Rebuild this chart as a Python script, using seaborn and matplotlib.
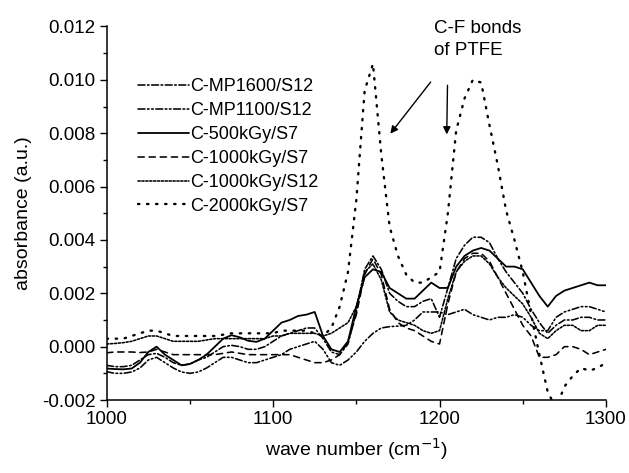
import matplotlib
matplotlib.use("Agg")
import matplotlib.pyplot as plt
import seaborn as sns
import numpy as np
from matplotlib.ticker import MultipleLocator, FormatStrFormatter

sns.set_theme(style="ticks")
plt.rcParams['font.family'] = ['Liberation Sans', 'DejaVu Sans']
plt.rcParams['axes.unicode_minus'] = False
plt.rcParams['lines.scale_dashes'] = False

wavenumber = [1000, 1005, 1010, 1015, 1020, 1025, 1030, 1035, 1040, 1045,
              1050, 1055, 1060, 1065, 1070, 1075, 1080, 1085, 1090, 1095,
              1100, 1105, 1110, 1115, 1120, 1125, 1130, 1135, 1140, 1145,
              1150, 1155, 1160, 1165, 1170, 1175, 1180, 1185, 1190, 1195,
              1200, 1205, 1210, 1215, 1220, 1225, 1230, 1235, 1240, 1245,
              1250, 1255, 1260, 1265, 1270, 1275, 1280, 1285, 1290, 1295, 1300]

mp1600_s12 = [-0.0007, -0.00075, -0.00075, -0.0007, -0.0005, -0.0003, -0.00025, -0.0004, -0.0006, -0.0007,
              -0.00065, -0.0005, -0.0004, -0.0002, 0.0000, 0.00005, 0.0000, -0.0001, -0.0001, 0.0000,
              0.0002, 0.0004, 0.0005, 0.0006, 0.0007, 0.0007, 0.0003, -0.0002, -0.0003, 0.0001,
              0.0013, 0.0029, 0.0034, 0.0029, 0.0020, 0.0017, 0.0015, 0.0015, 0.0017, 0.0018,
              0.0011, 0.0022, 0.0033, 0.0038, 0.0041, 0.0041, 0.0039, 0.0033, 0.0028, 0.0024,
              0.0020, 0.0014, 0.0009, 0.0005, 0.0008, 0.0010, 0.0010, 0.0011, 0.0011, 0.0010, 0.0010]

mp1100_s12 = [-0.00094, -0.0010, -0.0010, -0.00095, -0.0008, -0.0005, -0.0004, -0.0006, -0.0008, -0.00095,
              -0.0010, -0.00095, -0.0008, -0.0006, -0.0004, -0.0004, -0.0005, -0.0006, -0.0006, -0.0005,
              -0.0004, -0.0003, -0.0001, 0.0000, 0.0001, 0.0002, -0.0001, -0.0006, -0.0007, -0.0005,
              -0.0002, 0.0002, 0.0005, 0.0007, 0.00075, 0.00077, 0.0008, 0.0010, 0.0013, 0.0013,
              0.0013, 0.0012, 0.0013, 0.0014, 0.0012, 0.0011, 0.0010, 0.0011, 0.0011, 0.0012,
              0.0011, 0.0008, 0.0006, 0.0006, 0.0011, 0.0013, 0.0014, 0.0015, 0.0015, 0.0014, 0.0013]

kgy500_s7 = [-0.00082, -0.00084, -0.00085, -0.00082, -0.0006, -0.0002, 0.0000, -0.0003, -0.0005, -0.0007,
             -0.00065, -0.0005, -0.0003, 0.0000, 0.0003, 0.00043, 0.00035, 0.00022, 0.00018, 0.0003,
             0.0006, 0.0009, 0.0010, 0.00115, 0.0012, 0.0013, 0.0004, -0.0001, -0.0002, 0.0002,
             0.0015, 0.0026, 0.0029, 0.0028, 0.0022, 0.0020, 0.0018, 0.0018, 0.0021, 0.0024,
             0.0022, 0.0022, 0.0030, 0.0034, 0.0036, 0.0037, 0.0036, 0.0033, 0.0030, 0.0030,
             0.0029, 0.0024, 0.0019, 0.0015, 0.0019, 0.0021, 0.0022, 0.0023, 0.0024, 0.0023, 0.0023]

kgy1000_s7 = [-0.00023, -0.0002, -0.0002, -0.0002, -0.00022, -0.0002, -0.0001, -0.0002, -0.0003, -0.0003,
              -0.0003, -0.0003, -0.0003, -0.0003, -0.00025, -0.0002, -0.00025, -0.0003, -0.0003, -0.0003,
              -0.0003, -0.0003, -0.0003, -0.0004, -0.0005, -0.0006, -0.0006, -0.0005, -0.0003, 0.0002,
              0.0012, 0.0027, 0.0033, 0.0027, 0.0014, 0.0009, 0.0007, 0.0006, 0.0004, 0.0002,
              0.0001, 0.0016, 0.0028, 0.0033, 0.0035, 0.0035, 0.0032, 0.0026, 0.0020, 0.0014,
              0.0008, 0.0004, -0.0004, -0.0004, -0.0003, 0.0000, 0.0000, -0.0001, -0.0003, -0.0002, -0.0001]

kgy1000_s12 = [0.0001, 0.00012, 0.00015, 0.0002, 0.0003, 0.0004, 0.0004, 0.0003, 0.0002, 0.0002,
               0.0002, 0.0002, 0.00025, 0.0003, 0.0003, 0.0003, 0.0003, 0.0003, 0.0003, 0.0003,
               0.0004, 0.0004, 0.0005, 0.0005, 0.0005, 0.0005, 0.0004, 0.0005, 0.0007, 0.0009,
               0.0015, 0.0028, 0.0031, 0.0025, 0.0013, 0.0010, 0.0009, 0.0008, 0.0006, 0.0005,
               0.0006, 0.0018, 0.0028, 0.0032, 0.0034, 0.0034, 0.0031, 0.0026, 0.0022, 0.0019,
               0.0016, 0.0011, 0.0005, 0.0003, 0.0006, 0.0008, 0.0008, 0.0006, 0.0006, 0.0008, 0.0008]

kgy2000_s7 = [0.0003, 0.0003, 0.0003, 0.0004, 0.0005, 0.0006, 0.0006, 0.0005, 0.0004, 0.0004,
              0.0004, 0.0004, 0.0004, 0.0004, 0.00045, 0.0005, 0.0005, 0.0005, 0.0005, 0.0005,
              0.0005, 0.0006, 0.0006, 0.0006, 0.0006, 0.0005, 0.0004, 0.0007, 0.0015, 0.0028,
              0.0055, 0.0096, 0.0106, 0.0072, 0.0045, 0.0034, 0.0027, 0.0024, 0.0024, 0.0026,
              0.0028, 0.0050, 0.0081, 0.0093, 0.0100, 0.0099, 0.0083, 0.0068, 0.0051, 0.0040,
              0.0028, 0.0012, -0.0003, -0.0017, -0.0023, -0.0015, -0.0011, -0.0008, -0.0009, -0.0008, -0.0006]

labels = ["C-MP1600/S12", "C-MP1100/S12", "C-500kGy/S7",
          "C-1000kGy/S7", "C-1000kGy/S12", "C-2000kGy/S7"]
series = [mp1600_s12, mp1100_s12, kgy500_s7, kgy1000_s7, kgy1000_s12, kgy2000_s7]
styles = [(0, (5, 1.8, 1.2, 1.8)),
          (0, (5, 1.8, 1.2, 1.8, 1.2, 1.8)),
          '-',
          (0, (4.5, 3.5)),
          (0, (1.6, 1.2)),
          (0, (1.0, 5.5))]
widths = [1.15, 1.15, 1.3, 1.15, 1.15, 1.7]

fig = plt.figure(figsize=(6.29, 4.73), dpi=100)
ax = fig.add_axes([0.1696, 0.1543, 0.7938, 0.7897])

for lab, vals, ls, lw in zip(labels, series, styles, widths):
    sns.lineplot(x=wavenumber, y=vals, ax=ax, color='black', linestyle=ls,
                 linewidth=lw, label=lab, dash_capstyle='round')

ax.set_xlim(1000, 1300)
ax.set_ylim(-0.002, 0.012)
ax.xaxis.set_major_locator(MultipleLocator(100))
ax.xaxis.set_minor_locator(MultipleLocator(50))
ax.yaxis.set_major_locator(MultipleLocator(0.002))
ax.yaxis.set_minor_locator(MultipleLocator(0.001))
ax.yaxis.set_major_formatter(FormatStrFormatter('%.3f'))
ax.tick_params(which='major', direction='out', length=5, width=1, labelsize=13.5,
               color='black', labelcolor='black', pad=3)
ax.tick_params(which='minor', direction='out', length=3, width=1, color='black')
for s in ['top', 'right']:
    ax.spines[s].set_visible(False)
for s in ['left', 'bottom']:
    ax.spines[s].set_color('black')
    ax.spines[s].set_linewidth(1.1)

ax.set_xlabel('wave number (cm$^{-1}$)', fontsize=14, color='black', labelpad=6)
ax.set_ylabel('absorbance (a.u.)', fontsize=14, color='black', labelpad=7)

leg = ax.legend(loc='upper left', bbox_to_anchor=(0.045, 0.885), frameon=False,
                fontsize=13, handlelength=2.8, handletextpad=0.1,
                labelspacing=0.38, borderpad=0)
for t in leg.get_texts():
    t.set_color('black')

ax.text(1196.5, 0.01225, 'C-F bonds\nof PTFE', fontsize=13.5, color='black',
        ha='left', va='top', linespacing=1.4)
ax.annotate('', xy=(1169.4, 0.0079), xytext=(1195.7, 0.0100),
            arrowprops=dict(arrowstyle='-|>', color='black', lw=1, mutation_scale=11))
ax.annotate('', xy=(1204.3, 0.00785), xytext=(1204.8, 0.0099),
            arrowprops=dict(arrowstyle='-|>', color='black', lw=1, mutation_scale=11))

fig.savefig('out.png', dpi=100)
